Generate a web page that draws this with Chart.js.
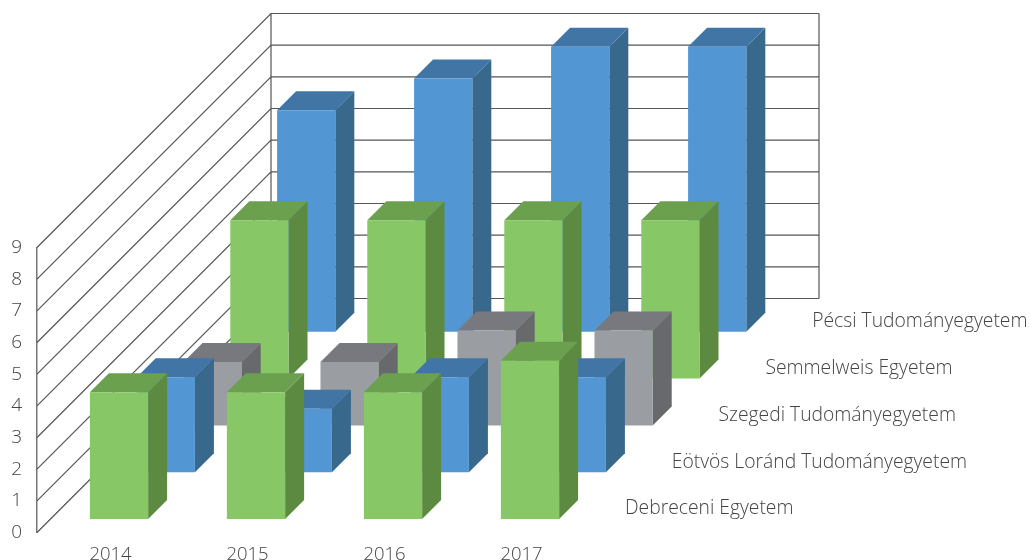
<!DOCTYPE html>
<html lang="hu">
  <head>
    <meta charset="UTF-8" />
    <title>Egyetemek 2014-2017</title>
    <style>
      body { margin: 0; background: #fff; }
      canvas { display: block; }
    </style>
    <script src="https://cdn.jsdelivr.net/npm/chart.js@4"></script>
  </head>
  <body>
    <canvas id="chart" width="1030" height="560"></canvas>
    <script>
      const years = ['2014', '2015', '2016', '2017'];
      const debreceni = [4, 4, 4, 5];
      const eotvos = [3, 2, 3, 3];
      const szegedi = [2, 2, 3, 3];
      const semmelweis = [5, 5, 5, 5];
      const pecsi = [7, 8, 9, 9];

      const textColor = '#444';
      const fontFamily = '"Open Sans", "Noto Sans", sans-serif';
      const rowStep = 46.8;    // shift between two rows of bars
      const rowStart = 13.5;   // gap between front plane and first row
      const wallDepth = 234;
      const barDepth = 19;

      function series(label, data, front, top, side) {
        return { label, data, backgroundColor: front, topColor: top, sideColor: side, clip: false };
      }

      function poly(ctx, color, pts) {
        ctx.fillStyle = color;
        ctx.beginPath();
        pts.forEach((p, i) => (i ? ctx.lineTo(p[0], p[1]) : ctx.moveTo(p[0], p[1])));
        ctx.closePath();
        ctx.fill();
      }

      // bars are drawn by the library, this only shifts each row back and adds walls + faces
      const depthPlugin = {
        id: 'depth',
        beforeDatasetsDraw(chart) {
          const { ctx, scales: { x, y } } = chart;
          const backRight = x.right + wallDepth;
          ctx.save();
          ctx.strokeStyle = '#555';
          ctx.lineWidth = 1.2;
          ctx.beginPath();
          y.ticks.forEach((t, i) => {
            const py = y.getPixelForTick(i);
            ctx.moveTo(x.left, py);
            ctx.lineTo(x.left + wallDepth, py - wallDepth);
            ctx.lineTo(backRight, py - wallDepth);
          });
          ctx.moveTo(x.left + wallDepth, y.top - wallDepth);
          ctx.lineTo(x.left + wallDepth, y.bottom - wallDepth);
          ctx.moveTo(backRight, y.top - wallDepth);
          ctx.lineTo(backRight, y.bottom - wallDepth);
          ctx.stroke();
          ctx.restore();

          // row names
          ctx.save();
          ctx.font = '300 19.3px ' + fontFamily;
          ctx.fillStyle = textColor;
          ctx.textAlign = 'left';
          ctx.textBaseline = 'middle';
          chart.data.datasets.forEach((ds, i) => {
            const shift = rowStep * i;
            ctx.fillText(ds.label, x.right + 40 + shift, y.bottom - 23.5 - shift);
          });
          ctx.restore();
        },
        beforeDatasetDraw(chart, args) {
          const { ctx } = chart;
          const ds = chart.data.datasets[args.index];
          const off = rowStart + rowStep * args.index;
          ctx.save();
          ctx.translate(off, -off);
          args.meta.data.forEach((bar) => {
            const { x, y, base, width } = bar.getProps(['x', 'y', 'base', 'width'], true);
            const l = x - width / 2;
            const r = x + width / 2;
            const d = barDepth;
            poly(ctx, ds.sideColor, [[r, y], [r + d, y - d], [r + d, base - d], [r, base]]);
            poly(ctx, ds.topColor, [[l, y], [l + d, y - d], [r + d, y - d], [r, y]]);
          });
        },
        afterDatasetDraw(chart) {
          chart.ctx.restore();
        }
      };

      new Chart(document.getElementById('chart'), {
        type: 'bar',
        data: {
          labels: years,
          datasets: [
            series('Debreceni Egyetem', debreceni, '#87c765', '#6aa04e', '#5c8a41'),
            series('Eötvös Loránd Tudományegyetem', eotvos, '#5296d3', '#4075a6', '#39688d'),
            series('Szegedi Tudományegyetem', szegedi, '#9a9da2', '#78797e', '#68696d'),
            series('Semmelweis Egyetem', semmelweis, '#87c765', '#6aa04e', '#5c8a41'),
            series('Pécsi Tudományegyetem', pecsi, '#5296d3', '#4075a6', '#39688d')
          ]
        },
        options: {
          responsive: false,
          animation: false,
          layout: { padding: { left: 0, right: 445, top: 247.5, bottom: 0 } },
          datasets: { bar: { grouped: false, categoryPercentage: 1, barPercentage: 0.425 } },
          plugins: { legend: { display: false }, tooltip: { enabled: false } },
          scales: {
            x: {
              afterFit(s) { s.height = 27.5; },
              grid: { display: false },
              border: { display: false },
              ticks: {
                color: textColor, labelOffset: 5, padding: 3, maxRotation: 0,
                font: { family: fontFamily, size: 18.5, weight: 300 }
              }
            },
            y: {
              min: 0,
              max: 9,
              afterFit(s) { s.width = 37; },
              grid: { display: false },
              border: { display: true, color: '#777', width: 1.5 },
              ticks: {
                stepSize: 1, color: textColor, padding: 7,
                font: { family: fontFamily, size: 19, weight: 300 }
              }
            }
          }
        },
        plugins: [depthPlugin]
      });
    </script>
  </body>
</html>
